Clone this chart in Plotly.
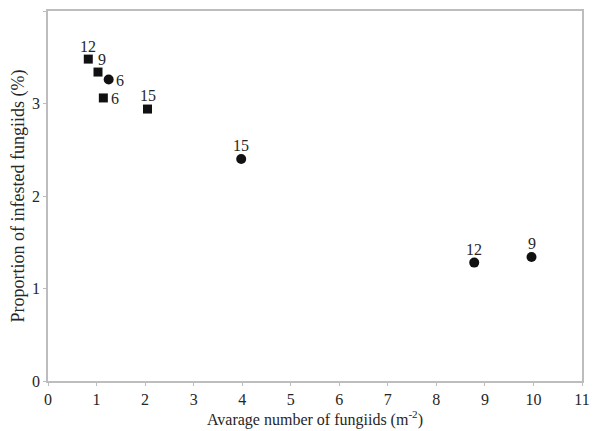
import plotly.graph_objects as go

# Square series
sq_x = [0.83, 1.03, 1.14, 2.05]
sq_y = [3.48, 3.34, 3.06, 2.94]
sq_lbl = ["12", "9", "6", "15"]

# Circle series
ci_x = [1.25, 3.98, 8.78, 9.96]
ci_y = [3.26, 2.40, 1.28, 1.34]
ci_lbl = ["6", "15", "12", "9"]

x_ticks = list(range(0, 12))
y_ticks = list(range(0, 5))

FONT = "Liberation Serif"
TXT = "#262626"
AX = "#bdbdbd"

fig = go.Figure()
fig.add_trace(go.Scatter(x=sq_x, y=sq_y, mode="markers",
                         marker=dict(symbol="square", size=9, color="#111111"),
                         showlegend=False, hoverinfo="skip"))
fig.add_trace(go.Scatter(x=ci_x, y=ci_y, mode="markers",
                         marker=dict(symbol="circle", size=10, color="#111111"),
                         showlegend=False, hoverinfo="skip"))

# label offsets (styling)
sq_off = [(0, 13), (3.5, 13), (11.5, -1), (0, 14)]
ci_off = [(11.5, -1), (0, 14), (0, 13.5), (0, 14)]
for xs, ys, ls, offs in ((sq_x, sq_y, sq_lbl, sq_off), (ci_x, ci_y, ci_lbl, ci_off)):
    for xv, yv, lv, (dx, dy) in zip(xs, ys, ls, offs):
        fig.add_annotation(x=xv, y=yv, text=lv, showarrow=False,
                           xshift=dx, yshift=dy,
                           font=dict(family=FONT, size=16, color=TXT))

# page body has an 8px margin; margins compensate so the plot box lands at the target pixels
fig.update_layout(
    width=606, height=431,
    margin=dict(l=39.5, r=32.3, t=3, b=58, autoexpand=False),
    paper_bgcolor="white", plot_bgcolor="white",
    font=dict(family=FONT, size=16, color=TXT),
)
fig.update_xaxes(range=[0, 11], tickvals=x_ticks, showgrid=False, zeroline=False,
                 showline=True, linecolor=AX, linewidth=1.5, mirror=True,
                 ticks="outside", ticklen=3, tickcolor=AX, automargin=False,
                 tickfont=dict(family=FONT, size=16, color=TXT),
                 title=dict(text="Avarage number of fungiids (m<sup>-2</sup>)",
                            font=dict(family=FONT, size=16, color=TXT), standoff=1))
fig.update_yaxes(range=[0, 4], tickvals=y_ticks, showgrid=False, zeroline=False,
                 showline=True, linecolor=AX, linewidth=1.5, mirror=True,
                 ticks="outside", ticklen=3, tickcolor=AX, automargin=False,
                 tickfont=dict(family=FONT, size=16, color=TXT),
                 title=dict(text="Proportion of infested fungiids (%)",
                            font=dict(family=FONT, size=18, color=TXT), standoff=4))

fig.write_html("out.html")
